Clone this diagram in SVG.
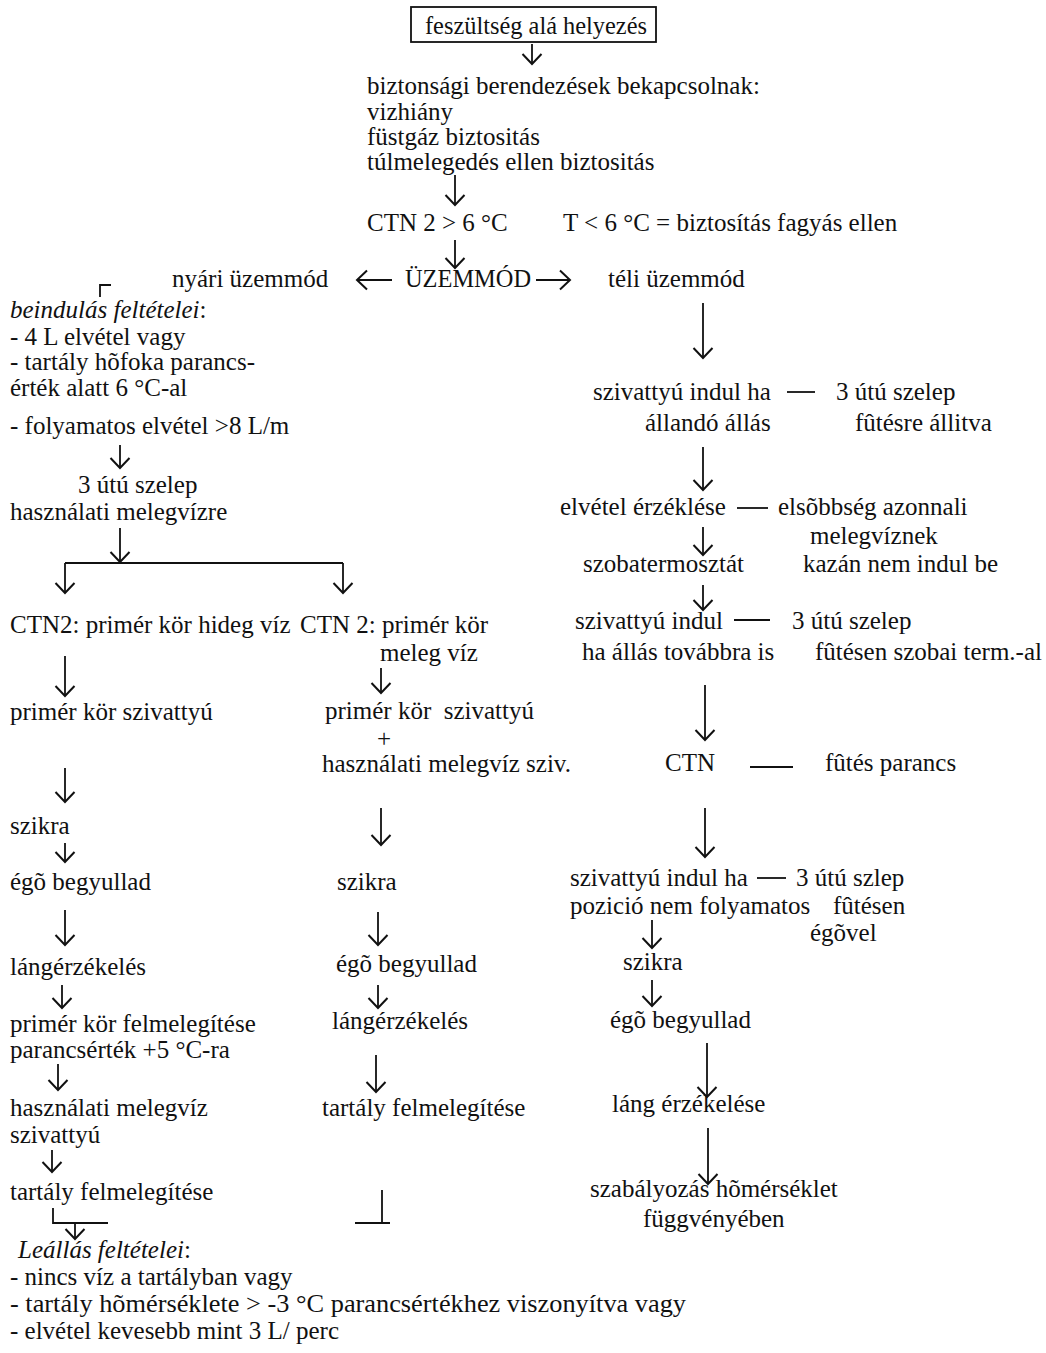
<svg xmlns="http://www.w3.org/2000/svg" width="1046" height="1353" viewBox="0 0 1046 1353">
<style>
text{font-family:"Liberation Serif","Times New Roman",serif;font-size:25px;fill:#111}
.i{font-style:italic}
.c{stroke:#111;stroke-width:1.8;fill:none}
</style>
<defs>
<marker id="ah" markerWidth="24" markerHeight="24" refX="12" refY="12" orient="auto" markerUnits="userSpaceOnUse">
<path d="M2,2.5 L12,12 L2,21.5" fill="none" stroke="#111" stroke-width="2"/>
</marker>
</defs>
<rect width="1046" height="1353" fill="#fff"/>

<g id="connectors">
<line class="c" x1="532" y1="44" x2="532" y2="64" marker-end="url(#ah)"/>
<line class="c" x1="455" y1="175" x2="455" y2="205" marker-end="url(#ah)"/>
<line class="c" x1="455" y1="240" x2="455" y2="268" marker-end="url(#ah)"/>
<line class="c" x1="392" y1="280" x2="357" y2="280" marker-end="url(#ah)"/>
<line class="c" x1="536" y1="280" x2="570" y2="280" marker-end="url(#ah)"/>
<path class="c" d="M100,297 V285 H111"/>
<line class="c" x1="120" y1="445" x2="120" y2="468" marker-end="url(#ah)"/>
<line class="c" x1="120" y1="528" x2="120" y2="562" marker-end="url(#ah)"/>
<line class="c" x1="65" y1="563" x2="343" y2="563"/>
<line class="c" x1="65" y1="563" x2="65" y2="593" marker-end="url(#ah)"/>
<line class="c" x1="343" y1="563" x2="343" y2="593" marker-end="url(#ah)"/>
<line class="c" x1="65" y1="656" x2="65" y2="696" marker-end="url(#ah)"/>
<line class="c" x1="381" y1="668" x2="381" y2="693" marker-end="url(#ah)"/>
<line class="c" x1="65" y1="768" x2="65" y2="802" marker-end="url(#ah)"/>
<line class="c" x1="65" y1="843" x2="65" y2="862" marker-end="url(#ah)"/>
<line class="c" x1="381" y1="808" x2="381" y2="845" marker-end="url(#ah)"/>
<line class="c" x1="65" y1="910" x2="65" y2="945" marker-end="url(#ah)"/>
<line class="c" x1="378" y1="912" x2="378" y2="945" marker-end="url(#ah)"/>
<line class="c" x1="378" y1="985" x2="378" y2="1008" marker-end="url(#ah)"/>
<line class="c" x1="62" y1="985" x2="62" y2="1008" marker-end="url(#ah)"/>
<line class="c" x1="58" y1="1064" x2="58" y2="1090" marker-end="url(#ah)"/>
<line class="c" x1="376" y1="1055" x2="376" y2="1092" marker-end="url(#ah)"/>
<line class="c" x1="52" y1="1150" x2="52" y2="1172" marker-end="url(#ah)"/>
<path class="c" d="M382,1190 V1223 M355,1223 H390"/>
<path class="c" d="M53,1208 V1223 H108"/>
<line class="c" x1="75" y1="1223" x2="75" y2="1239" marker-end="url(#ah)"/>
<line class="c" x1="703" y1="303" x2="703" y2="358" marker-end="url(#ah)"/>
<line class="c" x1="787" y1="392" x2="815" y2="392"/>
<line class="c" x1="703" y1="447" x2="703" y2="490" marker-end="url(#ah)"/>
<line class="c" x1="737" y1="508" x2="768" y2="508"/>
<line class="c" x1="703" y1="527" x2="703" y2="555" marker-end="url(#ah)"/>
<line class="c" x1="703" y1="585" x2="703" y2="610" marker-end="url(#ah)"/>
<line class="c" x1="734" y1="620" x2="770" y2="620"/>
<line class="c" x1="705" y1="685" x2="705" y2="740" marker-end="url(#ah)"/>
<line class="c" x1="750" y1="767" x2="793" y2="767"/>
<line class="c" x1="705" y1="808" x2="705" y2="857" marker-end="url(#ah)"/>
<line class="c" x1="757" y1="878" x2="786" y2="878"/>
<line class="c" x1="652" y1="920" x2="652" y2="948" marker-end="url(#ah)"/>
<line class="c" x1="652" y1="980" x2="652" y2="1006" marker-end="url(#ah)"/>
<line class="c" x1="707" y1="1043" x2="707" y2="1097" marker-end="url(#ah)"/>
<line class="c" x1="708" y1="1128" x2="708" y2="1184" marker-end="url(#ah)"/>
</g>

<g id="n-start"><rect x="411" y="7" width="245" height="35" fill="none" stroke="#111" stroke-width="1.8"/><text x="425" y="34" textLength="222" lengthAdjust="spacingAndGlyphs">feszültség alá helyezés</text></g>
<g id="n-safety">
<text x="367" y="94">biztonsági berendezések bekapcsolnak:</text>
<text x="367" y="120">vizhiány</text>
<text x="367" y="145">füstgáz biztositás</text>
<text x="367" y="170">túlmelegedés ellen biztositás</text>
</g>
<g id="n-ctn2"><text x="367" y="231">CTN 2 &gt; 6 °C</text></g>
<g id="n-frost"><text x="563" y="231">T &lt; 6 °C = biztosítás fagyás ellen</text></g>
<g id="n-mode"><text x="405" y="287" textLength="126" lengthAdjust="spacingAndGlyphs">ÜZEMMÓD</text></g>
<g id="n-summer"><text x="172" y="287">nyári üzemmód</text></g>
<g id="n-winter"><text x="608" y="287">téli üzemmód</text></g>

<g id="n-start-cond">
<text x="10" y="318" class="i">beindulás feltételei<tspan font-style="normal">:</tspan></text>
<text x="10" y="345">- 4 L elvétel vagy</text>
<text x="10" y="370">- tartály hõfoka parancs-</text>
<text x="10" y="396">érték alatt 6 °C-al</text>
<text x="10" y="434">- folyamatos elvétel &gt;8 L/m</text>
</g>
<g id="n-valve-dhw"><text x="78" y="493">3 útú szelep</text><text x="10" y="520">használati melegvízre</text></g>
<g id="n-cold"><text x="10" y="633">CTN2: primér kör hideg víz</text></g>
<g id="n-warm"><text x="300" y="633">CTN 2: primér kör</text><text x="380" y="661">meleg víz</text></g>
<g id="n-l-pump"><text x="10" y="720">primér kör szivattyú</text></g>
<g id="n-r-pump"><text x="325" y="719" xml:space="preserve">primér kör  szivattyú</text><text x="377" y="747">+</text><text x="322" y="772">használati melegvíz sziv.</text></g>
<g id="n-l-spark"><text x="10" y="834">szikra</text></g>
<g id="n-l-ignite"><text x="10" y="890">égõ begyullad</text></g>
<g id="n-r-spark"><text x="337" y="890">szikra</text></g>
<g id="n-l-flame"><text x="10" y="975">lángérzékelés</text></g>
<g id="n-r-ignite"><text x="336" y="972">égõ begyullad</text></g>
<g id="n-r-flame"><text x="332" y="1029">lángérzékelés</text></g>
<g id="n-l-heat"><text x="10" y="1032">primér kör felmelegítése</text><text x="10" y="1058">parancsérték +5 °C-ra</text></g>
<g id="n-l-dhwpump"><text x="10" y="1116">használati melegvíz</text><text x="10" y="1143">szivattyú</text></g>
<g id="n-r-tank"><text x="322" y="1116">tartály felmelegítése</text></g>
<g id="n-l-tank"><text x="10" y="1200">tartály felmelegítése</text></g>
<g id="n-stop-cond">
<text x="18" y="1258" class="i">Leállás feltételei<tspan font-style="normal">:</tspan></text>
<text x="10" y="1285">- nincs víz a tartályban vagy</text>
<text x="10" y="1312" textLength="676" lengthAdjust="spacingAndGlyphs">- tartály hõmérséklete &gt; -3 °C parancsértékhez viszonyítva vagy</text>
<text x="10" y="1339">- elvétel kevesebb mint 3 L/ perc</text>
</g>

<g id="n-w-pump"><text x="593" y="400">szivattyú indul ha</text><text x="645" y="431">állandó állás</text></g>
<g id="n-w-valve"><text x="836" y="400">3 útú szelep</text><text x="855" y="431">fûtésre állitva</text></g>
<g id="n-w-draw"><text x="560" y="515">elvétel érzéklése</text></g>
<g id="n-w-prio"><text x="778" y="515">elsõbbség azonnali</text><text x="810" y="544">melegvíznek</text><text x="803" y="572">kazán nem indul be</text></g>
<g id="n-w-thermo"><text x="583" y="572">szobatermosztát</text></g>
<g id="n-w-pump2"><text x="575" y="629">szivattyú indul</text><text x="582" y="660">ha állás továbbra is</text></g>
<g id="n-w-valve2"><text x="792" y="629">3 útú szelep</text><text x="815" y="660">fûtésen szobai term.-al</text></g>
<g id="n-w-ctn"><text x="665" y="771">CTN</text></g>
<g id="n-w-cmd"><text x="825" y="771">fûtés parancs</text></g>
<g id="n-w-pump3"><text x="570" y="886">szivattyú indul ha</text><text x="570" y="914">pozició nem folyamatos</text></g>
<g id="n-w-valve3"><text x="796" y="886">3 útú szlep</text><text x="833" y="914">fûtésen</text><text x="810" y="941">égõvel</text></g>
<g id="n-w-spark"><text x="623" y="970">szikra</text></g>
<g id="n-w-ignite"><text x="610" y="1028">égõ begyullad</text></g>
<g id="n-w-flame"><text x="612" y="1112">láng érzékelése</text></g>
<g id="n-w-reg"><text x="590" y="1197">szabályozás hõmérséklet</text><text x="643" y="1227">függvényében</text></g>
</svg>
